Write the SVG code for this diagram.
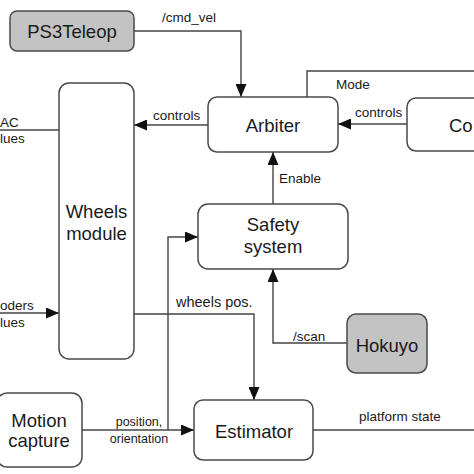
<svg xmlns="http://www.w3.org/2000/svg" width="474" height="474" viewBox="0 0 474 474">
<style>
.box{fill:#fff;stroke:#4a4a4a;stroke-width:1.5}
.grey{fill:#c3c3c3;stroke:#4a4a4a;stroke-width:1.5}
.n{font-family:"Liberation Sans",Arial,sans-serif;font-size:18.5px;fill:#1a1a1a;text-anchor:middle}
.l{font-family:"Liberation Sans",Arial,sans-serif;font-size:13.5px;fill:#1a1a1a}
.s{font-family:"Liberation Sans",Arial,sans-serif;font-size:12.5px;fill:#1a1a1a;text-anchor:middle}
.c{fill:none;stroke:#444;stroke-width:1.4}
</style>
<defs>
<marker id="ah" markerUnits="userSpaceOnUse" markerWidth="13" markerHeight="11" refX="13" refY="5.5" orient="auto">
<path d="M0,0 L13,5.5 L0,11 z" fill="#111"/>
</marker>
</defs>
<rect width="474" height="474" fill="#fff"/>
<g id="connectors">
<path class="c" d="M134,31 H241 V97" marker-end="url(#ah)"/>
<path class="c" d="M307,97 V71 H474"/>
<path class="c" d="M407,124 H338" marker-end="url(#ah)"/>
<path class="c" d="M208,125 H134" marker-end="url(#ah)"/>
<path class="c" d="M59,130 H0"/>
<path class="c" d="M0,313 H59" marker-end="url(#ah)"/>
<path class="c" d="M273,204 V152" marker-end="url(#ah)"/>
<path class="c" d="M347,343 H273 V269" marker-end="url(#ah)"/>
<path class="c" d="M134,314 H254 V400" marker-end="url(#ah)"/>
<path class="c" d="M82,430 H194" marker-end="url(#ah)"/>
<path class="c" d="M168,430 V237 H198" marker-end="url(#ah)"/>
<path class="c" d="M313,430 H474"/>
<text class="l" x="162" y="22">/cmd_vel</text>
<text class="l" x="336" y="89">Mode</text>
<text class="l" x="355" y="117">controls</text>
<text class="l" x="153" y="120">controls</text>
<text class="l" x="0" y="127">AC</text>
<text class="l" x="0" y="143">lues</text>
<text class="l" x="0" y="310">oders</text>
<text class="l" x="0" y="327">lues</text>
<text class="l" x="279" y="183">Enable</text>
<text class="l" x="176" y="307" style="font-size:14.5px">wheels pos.</text>
<text class="l" x="293" y="341">/scan</text>
<text class="s" x="139" y="426">position,</text>
<text class="s" x="139" y="443">orientation</text>
<text class="l" x="359" y="421">platform state</text>
</g>
<g id="ps3teleop">
<rect class="grey" x="10" y="11" width="124" height="40" rx="7"/>
<text class="n" x="72" y="38">PS3Teleop</text>
</g>
<g id="wheels">
<rect class="box" x="59" y="83" width="75" height="276" rx="10"/>
<text class="n" x="96.5" y="218">Wheels</text>
<text class="n" x="96.5" y="240">module</text>
</g>
<g id="arbiter">
<rect class="box" x="208" y="97" width="130" height="55" rx="9"/>
<text class="n" x="273" y="132">Arbiter</text>
</g>
<g id="controller">
<rect class="box" x="407" y="98" width="80" height="53" rx="9"/>
<text class="n" x="449" y="132" style="text-anchor:start">Co</text>
</g>
<g id="safety">
<rect class="box" x="198" y="204" width="150" height="65" rx="10"/>
<text class="n" x="273" y="231">Safety</text>
<text class="n" x="273" y="253">system</text>
</g>
<g id="hokuyo">
<rect class="grey" x="347" y="314" width="80" height="59" rx="9"/>
<text class="n" x="387" y="352">Hokuyo</text>
</g>
<g id="motion">
<rect class="box" x="-3" y="393" width="85" height="74" rx="10"/>
<text class="n" x="39" y="427">Motion</text>
<text class="n" x="39" y="447">capture</text>
</g>
<g id="estimator">
<rect class="box" x="194" y="400" width="119" height="60" rx="9"/>
<text class="n" x="254" y="438">Estimator</text>
</g>
</svg>
